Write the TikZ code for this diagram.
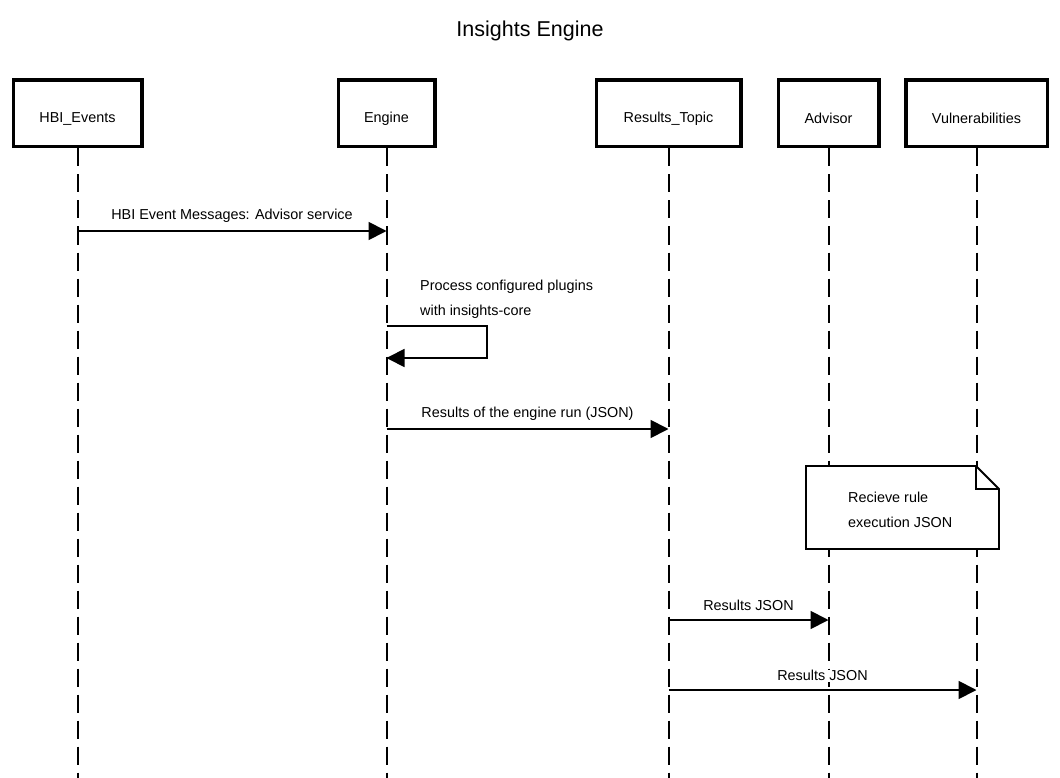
\documentclass[tikz,border=0pt]{standalone}
\usepackage{fontspec}
\setmainfont{Liberation Sans}
\usetikzlibrary{arrows.meta}
\begin{document}
\begin{tikzpicture}[x=1pt,y=-1pt,
  actor/.style={draw, line width=3.5pt, minimum height=66.5pt, inner sep=0pt},
  boxtext/.style={font=\fontsize{14.4}{16}\selectfont, inner sep=0pt},
  lifeline/.style={line width=2pt, dash pattern=on 18pt off 8pt},
  msg/.style={line width=1.8pt, -{Triangle[length=18pt,width=18pt]}},
  lbl/.style={font=\fontsize{14.4}{16}\selectfont, inner sep=1pt},
  mlbl/.style={lbl, fill=white, above=7pt},
  notebox/.style={draw, line width=1.8pt, fill=white}]
\useasboundingbox (0,0) rectangle (1060,778);
\node[font=\fontsize{21.5}{24}\selectfont] (title) at (530,31) {Insights Engine};
\node[actor, minimum width=128.5pt] (hbi) at (77.5,113.5) {};
\node[actor, minimum width=96.5pt] (eng) at (386.5,113.5) {};
\node[actor, minimum width=144.5pt] (res) at (668.5,113.5) {};
\node[actor, minimum width=100.5pt] (adv) at (828.5,113.5) {};
\node[actor, minimum width=141.5pt] (vul) at (976.5,113.5) {};
\node[boxtext] (hbit) at ([yshift=-5pt]hbi.center) {HBI\_Events};
\node[boxtext] (engt) at ([yshift=-5pt]eng.center) {Engine};
\node[boxtext] (rest) at ([yshift=-5pt]res.center) {Results\_Topic};
\node[boxtext] (advt) at ([yshift=-5pt]adv.center) {Advisor};
\node[boxtext] (vult) at ([yshift=-5pt]vul.center) {Vulnerabilities};
\coordinate (bot) at (0,778);
\foreach \n in {hbi,eng,res,adv,vul}{
  \draw[lifeline] (\n.south) -- (\n.south |- bot);
}
% message 1
\coordinate (m1a) at (77.5,231);
\coordinate (m1b) at (386.5,231);
\draw[msg] (m1a) -- node[mlbl] {HBI Event Messages: Advisor service} (m1b);
% self message
\coordinate (s1) at (386.5,326);
\coordinate (s2) at (487,326);
\coordinate (s3) at (487,358);
\coordinate (s4) at (386.5,358);
\draw[msg] (s1) -- (s2) -- (s3) -- (s4);
\node[lbl, anchor=west] (p1) at (419,287) {Process configured plugins};
\node[lbl, anchor=west] (p2) at (419,312) {with insights-core};
% message 3
\coordinate (m3a) at (386.5,429);
\coordinate (m3b) at (668.5,429);
\draw[msg] (m3a) -- node[mlbl] {Results of the engine run (JSON)} (m3b);
% note
\draw[notebox] (806,466) -- (976,466) -- (999,489) -- (999,549) -- (806,549) -- cycle;
\draw[line width=1.8pt] (976,466) -- (976,489) -- (999,489);
\node[lbl, anchor=west] (n1) at (847,497) {Recieve rule};
\node[lbl, anchor=west] (n2) at (847,522) {execution JSON};
% message 4
\coordinate (m4a) at (668.5,620);
\coordinate (m4b) at (828.5,620);
\draw[msg] (m4a) -- node[mlbl] {Results JSON} (m4b);
% message 5
\coordinate (m5a) at (668.5,690);
\coordinate (m5b) at (976.5,690);
\draw[msg] (m5a) -- node[mlbl] {Results JSON} (m5b);
\end{tikzpicture}
\end{document}
